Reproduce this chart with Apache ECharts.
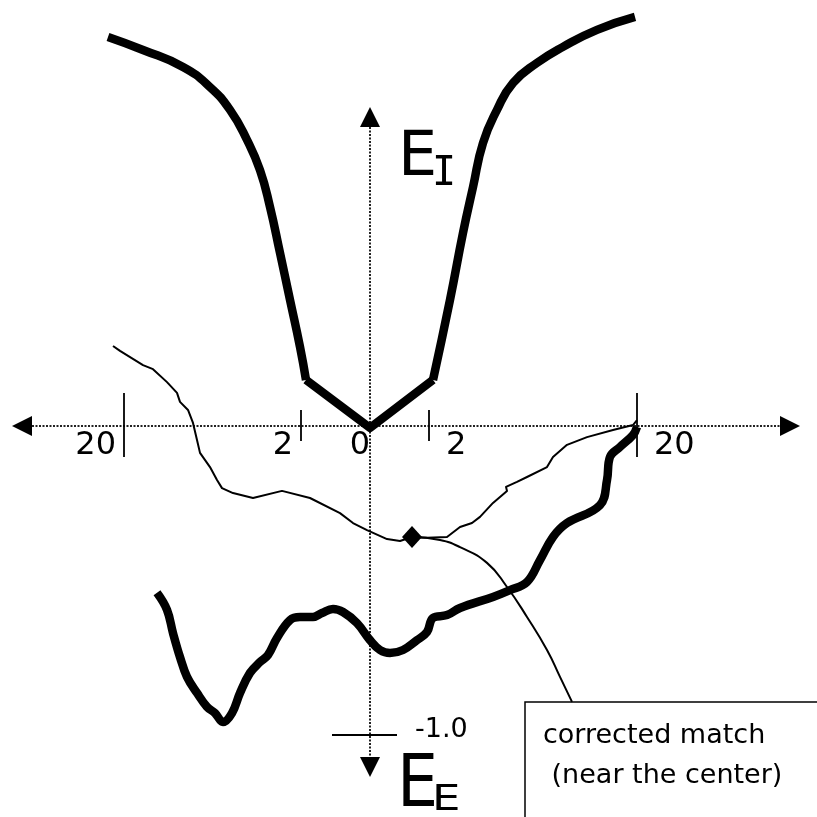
<!DOCTYPE html>
<html>
<head>
<meta charset="utf-8">
<title>E_I / E_E match curves</title>
<script src="https://cdn.jsdelivr.net/npm/echarts@6/dist/echarts.min.js"></script>
<style>
  html, body { margin: 0; padding: 0; background: #fff; }
  #chart { width: 817px; height: 817px; }
</style>
</head>
<body>
<div id="chart"></div>
<script>
// ---- data (x: offset along E, y: energy) ----
// E_I: left flank, central valley, right flank
const eiLeft = [[-2.62,1.259],[-2.27,1.217],[-1.87,1.162],[-1.60,1.097],[-1.40,1.023],[-1.23,0.926],
  [-1.10,0.828],[-1.00,0.709],[-0.90,0.560],[-0.80,0.408],[-0.70,0.256],[-0.64,0.149]];
const eiValley = [[-0.64,0.149],[0.00,-0.006],[0.63,0.149]];
const eiRight = [[0.63,0.149],[0.80,0.408],[0.93,0.625],[1.03,0.773],[1.13,0.916],[1.27,1.023],
  [1.43,1.110],[1.67,1.175],[1.93,1.227],[2.27,1.282],[2.65,1.324]];

// E_E profile
const eeCurve = [[-2.13,-0.540],[-2.03,-0.595],[-1.97,-0.670],[-1.90,-0.748],[-1.83,-0.812],[-1.73,-0.864],
  [-1.63,-0.909],[-1.55,-0.929],[-1.47,-0.958],[-1.38,-0.929],[-1.30,-0.864],[-1.20,-0.799],[-1.10,-0.764],
  [-1.02,-0.741],[-0.93,-0.686],[-0.80,-0.628],[-0.70,-0.618],[-0.57,-0.618],[-0.48,-0.605],[-0.37,-0.592],
  [-0.27,-0.602],[-0.13,-0.638],[0.00,-0.693],[0.10,-0.725],[0.20,-0.735],[0.33,-0.725],[0.47,-0.693],
  [0.57,-0.667],[0.63,-0.621],[0.77,-0.612],[0.90,-0.589],[1.23,-0.553],[1.40,-0.531],[1.57,-0.505],
  [1.70,-0.434],[1.83,-0.359],[1.97,-0.314],[2.30,-0.256],[2.37,-0.175],[2.40,-0.100],[2.50,-0.068],
  [2.63,-0.029],[2.67,-0.003]];

// thin match path
const matchPath = [[-2.57,0.259],[-2.50,0.243],[-2.27,0.197],[-2.17,0.184],[-2.03,0.142],[-1.93,0.107],
  [-1.90,0.078],[-1.82,0.052],[-1.77,0.010],[-1.73,-0.045],[-1.70,-0.087],[-1.60,-0.133],[-1.53,-0.175],
  [-1.48,-0.201],[-1.37,-0.217],[-1.17,-0.233],[-0.88,-0.210],[-0.60,-0.233],[-0.30,-0.282],[-0.17,-0.314],
  [-0.03,-0.337],[0.17,-0.366],[0.30,-0.372],[0.42,-0.359],[0.57,-0.362],[0.77,-0.359],[0.90,-0.327],
  [1.02,-0.314],[1.10,-0.294],[1.23,-0.249],[1.37,-0.210],[1.36,-0.197],[1.47,-0.181],[1.57,-0.165],
  [1.77,-0.133],[1.83,-0.100],[1.97,-0.061],[2.17,-0.036],[2.43,-0.013],[2.63,0.003],[2.67,0.019]];

// corrected match point and its callout leader
const matchPoint = [[0.42,-0.359]];
const calloutPath = [[0.42,-0.359],[0.70,-0.369],[0.90,-0.392],[1.17,-0.443],[1.37,-0.521],
  [1.57,-0.618],[1.77,-0.725],[1.90,-0.812],[2.02,-0.893]];
const calloutBox = [1.55,-0.893];          // top-left corner of the note box
const calloutText = ['corrected match', ' (near the center)'];

// axis furniture
const xTickValues = [-2.46, -0.69, 0, 0.59, 2.67];
const xTickLabels = ['20', '2', '0', '2', '20'];
const xTickMajor = [true, false, null, false, true];
const yTickValue = -1.0;
const yTickLabel = '-1.0';
const xAxisEnds = [-3.58, 4.30];
const yAxisEnds = [-1.136, 1.032];

// ---- drawing ----
const FONT = '"DejaVu Sans", Verdana, sans-serif';
const chart = echarts.init(document.getElementById('chart'), null, { renderer: 'canvas' });

function renderFrame(params, api) {
  const P = (x, y) => api.coord([x, y]);
  const o = P(0, 0);
  const kids = [];
  const dotted = { stroke: '#222', lineWidth: 2, lineDash: [2, 1.5] };
  const AH = 20, AW = 10;

  const xl = P(xAxisEnds[0], 0)[0], xr = P(xAxisEnds[1], 0)[0];
  const yt = P(0, yAxisEnds[1])[1], yb = P(0, yAxisEnds[0])[1];

  // dotted axes
  kids.push({ type: 'line', shape: { x1: xl + AH, y1: o[1], x2: xr - AH, y2: o[1] }, style: dotted });
  kids.push({ type: 'line', shape: { x1: o[0], y1: yt + AH, x2: o[0], y2: yb - AH }, style: dotted });

  // arrowheads
  const tri = pts => ({ type: 'polygon', shape: { points: pts }, style: { fill: '#000' } });
  kids.push(tri([[xl, o[1]], [xl + AH, o[1] - AW], [xl + AH, o[1] + AW]]));
  kids.push(tri([[xr, o[1]], [xr - AH, o[1] - AW], [xr - AH, o[1] + AW]]));
  kids.push(tri([[o[0], yt], [o[0] - AW, yt + AH], [o[0] + AW, yt + AH]]));
  kids.push(tri([[o[0], yb], [o[0] - AW, yb - AH], [o[0] + AW, yb - AH]]));

  // x ticks and labels
  xTickValues.forEach((v, i) => {
    const px = P(v, 0)[0];
    const major = xTickMajor[i];
    if (major !== null) {
      const up = major ? 33 : 16, down = major ? 31 : 15;
      kids.push({ type: 'line', shape: { x1: px, y1: o[1] - up, x2: px, y2: o[1] + down },
        style: { stroke: '#000', lineWidth: 1.8 } });
    }
    let lx, align;
    if (v < 0) { lx = px - 8; align = 'right'; }
    else if (v > 0) { lx = px + 17; align = 'left'; }
    else { lx = px - 10; align = 'center'; }
    kids.push({ type: 'text', x: lx, y: o[1] + 20,
      style: { text: xTickLabels[i], font: '32px ' + FONT, fill: '#000', align: align, verticalAlign: 'middle' } });
  });

  // y tick at -1.0
  const ty = P(0, yTickValue)[1];
  kids.push({ type: 'line', shape: { x1: o[0] - 38, y1: ty, x2: o[0] + 27, y2: ty },
    style: { stroke: '#000', lineWidth: 1.8 } });
  kids.push({ type: 'text', x: o[0] + 45, y: ty - 5,
    style: { text: yTickLabel, font: '27px ' + FONT, fill: '#000', align: 'left', verticalAlign: 'middle' } });

  // axis titles E_I and E_E
  kids.push({ type: 'text', x: o[0] + 28, y: yt + 52,
    style: { text: 'E', font: '62px ' + FONT, fill: '#000', align: 'left', verticalAlign: 'middle' } });
  kids.push({ type: 'text', x: o[0] + 62, y: yt + 67,
    style: { text: 'I', font: '40px "DejaVu Sans Mono", monospace', fill: '#000', align: 'left', verticalAlign: 'middle' } });
  kids.push({ type: 'text', x: o[0] + 27, y: yb + 10, scaleX: 1.05, scaleY: 1.18,
    style: { text: 'E', font: '62px ' + FONT, fill: '#000', align: 'left', verticalAlign: 'middle' } });
  kids.push({ type: 'text', x: o[0] + 62, y: yb + 24, scaleX: 1.25, scaleY: 1.0,
    style: { text: 'E', font: '36px ' + FONT, fill: '#000', align: 'left', verticalAlign: 'middle' } });

  // note box
  const b = P(calloutBox[0], calloutBox[1]);
  kids.push({ type: 'rect', shape: { x: b[0], y: b[1], width: 400, height: 300 },
    style: { fill: '#fff', stroke: '#000', lineWidth: 1.5 } });
  kids.push({ type: 'text', x: b[0] + 18, y: b[1] + 34,
    style: { text: calloutText[0], font: '27px ' + FONT, fill: '#000', align: 'left', verticalAlign: 'middle' } });
  kids.push({ type: 'text', x: b[0] + 18, y: b[1] + 74,
    style: { text: calloutText[1], font: '27px ' + FONT, fill: '#000', align: 'left', verticalAlign: 'middle', whiteSpace: 'pre' } });

  return { type: 'group', children: kids };
}

function curve(name, data, width, smooth, z) {
  return {
    type: 'line', name, data, smooth, z,
    symbol: 'none', showSymbol: false, clip: false, silent: true,
    lineStyle: { color: '#000', width, cap: 'butt', join: 'round' }
  };
}

chart.setOption({
  animation: false,
  backgroundColor: '#fff',
  grid: { left: 0, top: 0, right: 0, bottom: 0 },
  xAxis: { type: 'value', min: -3.70, max: 4.47, show: false },
  yAxis: { type: 'value', min: -391 / 309, max: 426 / 309, show: false },
  series: [
    { type: 'custom', name: 'frame', data: [[0, 0]], renderItem: renderFrame, clip: false, silent: true, z: 1 },
    curve('E_I left', eiLeft, 8.5, 0.5, 3),
    curve('E_I valley', eiValley, 8.5, false, 3),
    curve('E_I right', eiRight, 8.5, 0.5, 3),
    curve('E_E', eeCurve, 8.5, 0.4, 3),
    curve('match path', matchPath, 2, false, 4),
    curve('callout', calloutPath, 2, 0.5, 4),
    {
      type: 'scatter', name: 'corrected match', data: matchPoint, z: 5, silent: true,
      symbol: 'diamond', symbolSize: [20, 22], itemStyle: { color: '#000', opacity: 1 }
    }
  ]
});
</script>
</body>
</html>
